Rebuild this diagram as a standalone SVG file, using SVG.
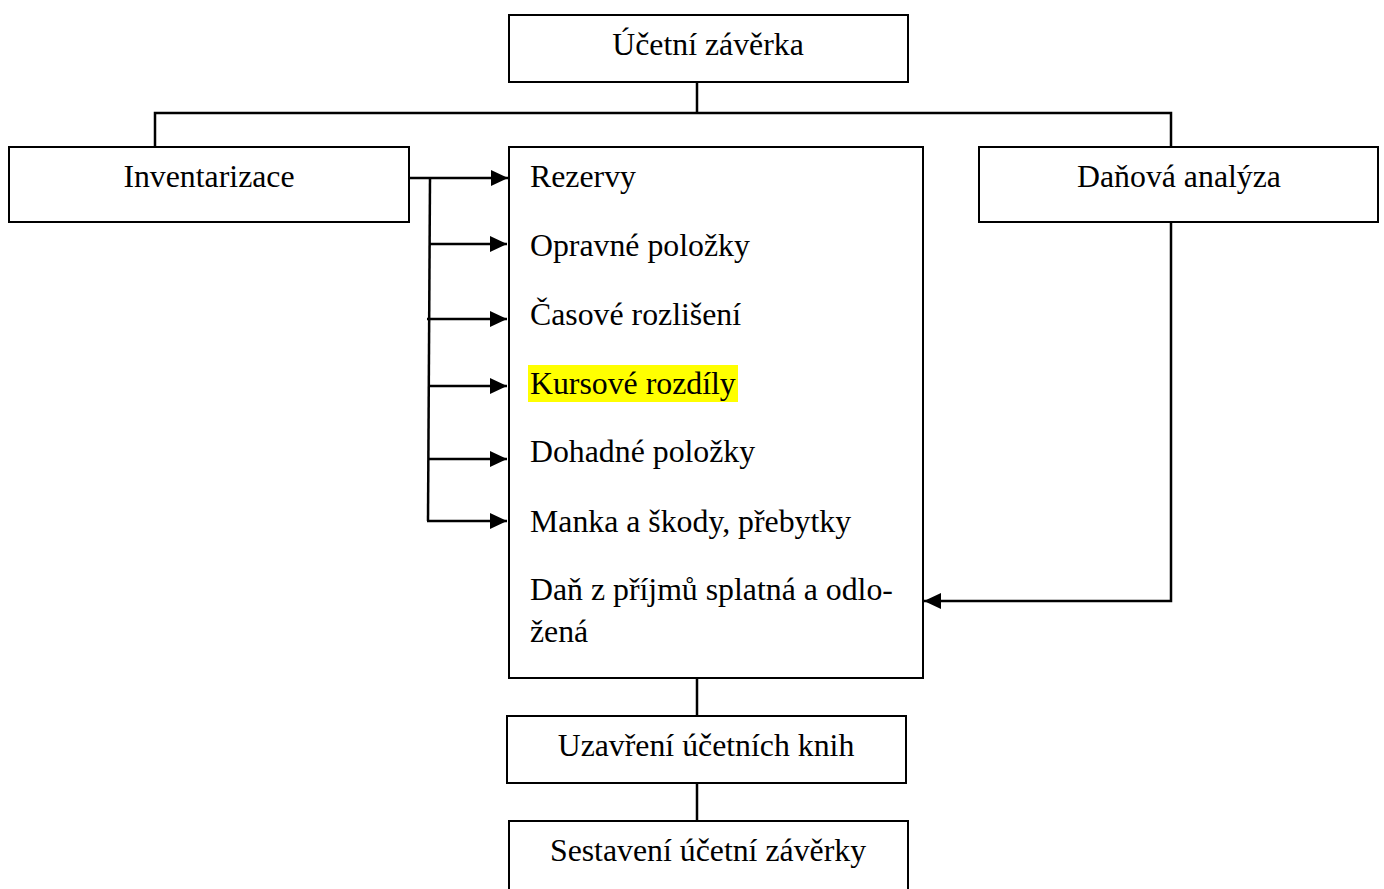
<svg xmlns="http://www.w3.org/2000/svg" width="1384" height="889" viewBox="0 0 1384 889">
<defs>
<style>
.box{fill:#fff;stroke:#000;stroke-width:2}
.t{font-family:"Liberation Serif","Times New Roman",serif;font-size:31.8px;fill:#000}
.c{text-anchor:middle}
.ln{fill:none;stroke:#000;stroke-width:2.5}
</style>
<marker id="ah" markerWidth="18" markerHeight="18" refX="17" refY="9" orient="auto" markerUnits="userSpaceOnUse">
<path d="M0,1 L17,9 L0,17 Z" fill="#000"/>
</marker>
</defs>
<rect width="1384" height="889" fill="#fff"/>
<g id="connectors">
<path class="ln" d="M697,82 V113 M155,147 V113 H1171 V147"/>
<path class="ln" d="M409,178 H508" marker-end="url(#ah)"/>
<path class="ln" d="M430,178 L428,521"/>
<path class="ln" d="M429,244 H507" marker-end="url(#ah)"/>
<path class="ln" d="M427,319 H507" marker-end="url(#ah)"/>
<path class="ln" d="M428,386 H507" marker-end="url(#ah)"/>
<path class="ln" d="M428,459 H507" marker-end="url(#ah)"/>
<path class="ln" d="M427,521 H507" marker-end="url(#ah)"/>
<path class="ln" d="M1171,222 V601 H924" marker-end="url(#ah)"/>
<path class="ln" d="M697,678 V716 M697,783 V821"/>
</g>
<g id="n-ucetni-zaverka">
<rect class="box" x="509" y="15" width="399" height="67"/>
<text class="t c" x="708" y="55">Účetní závěrka</text>
</g>
<g id="n-inventarizace">
<rect class="box" x="9" y="147" width="400" height="75"/>
<text class="t c" x="209" y="187">Inventarizace</text>
</g>
<g id="n-danova-analyza">
<rect class="box" x="979" y="147" width="399" height="75"/>
<text class="t c" x="1179" y="187">Daňová analýza</text>
</g>
<g id="n-polozky">
<rect class="box" x="509" y="147" width="414" height="531"/>
<rect x="528" y="365" width="210" height="37" fill="#ffff00"/>
<text class="t" x="530" y="187">Rezervy</text>
<text class="t" x="530" y="256">Opravné položky</text>
<text class="t" x="530" y="325">Časové rozlišení</text>
<text class="t" x="530" y="394">Kursové rozdíly</text>
<text class="t" x="530" y="462">Dohadné položky</text>
<text class="t" x="530" y="532">Manka a škody, přebytky</text>
<text class="t" x="530" y="600">Daň z příjmů splatná a odlo-</text>
<text class="t" x="530" y="642">žená</text>
</g>
<g id="n-uzavreni">
<rect class="box" x="507" y="716" width="399" height="67"/>
<text class="t c" x="706" y="756">Uzavření účetních knih</text>
</g>
<g id="n-sestaveni">
<rect class="box" x="509" y="821" width="399" height="80"/>
<text class="t c" x="708" y="861">Sestavení účetní závěrky</text>
</g>
</svg>
